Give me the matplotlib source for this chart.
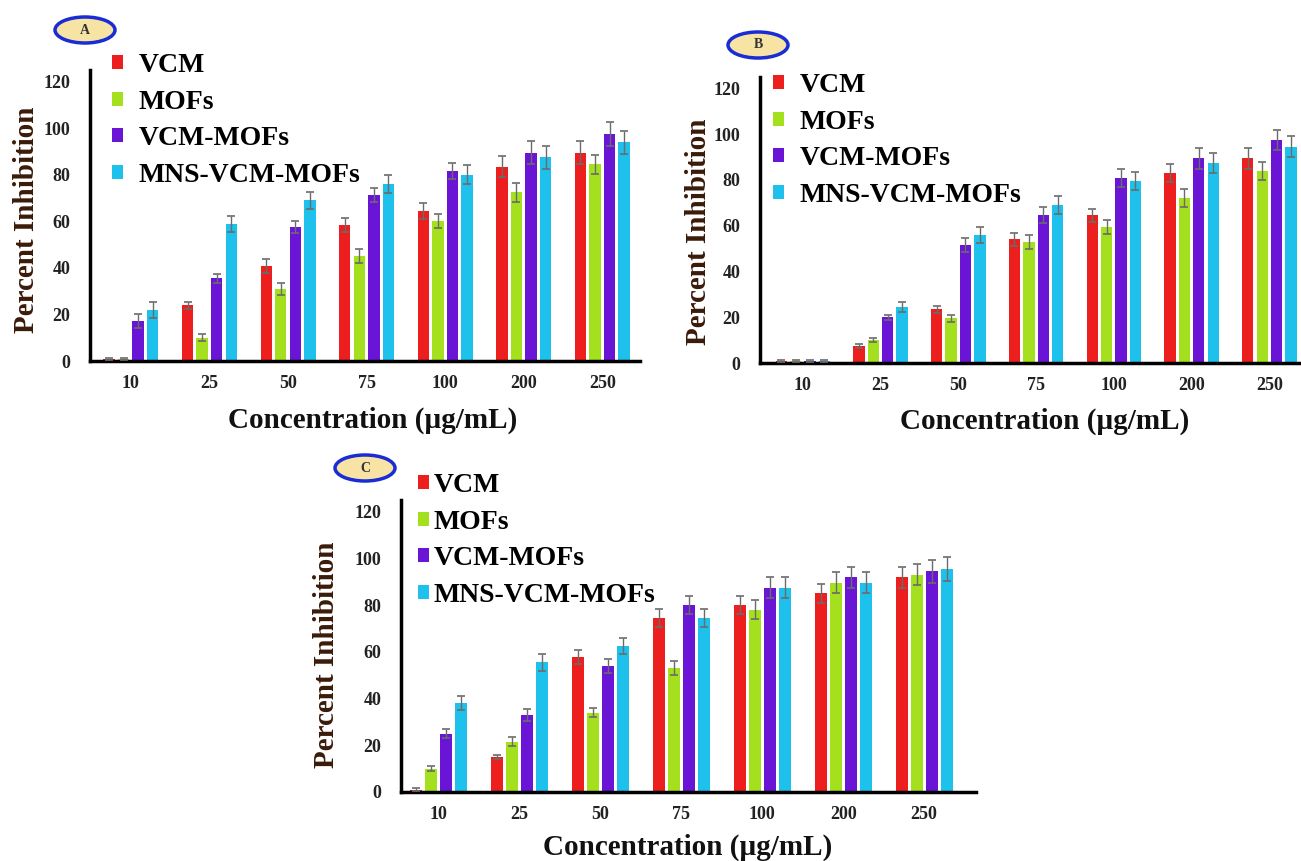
import matplotlib
matplotlib.use('Agg')
import matplotlib.pyplot as plt
from matplotlib.patches import Ellipse
import numpy as np

concs = ['10', '25', '50', '75', '100', '200', '250']
series = ['VCM', 'MOFs', 'VCM-MOFs', 'MNS-VCM-MOFs']
colors = ['#ec1e1e', '#a4e01e', '#6a14d6', '#1ec0ec']
yticks = [0, 20, 40, 60, 80, 100, 120]

# panel A values (percent inhibition)
vcm_a = [1, 24, 41, 58.5, 64.5, 83.5, 89.5]
mofs_a = [1, 10, 31, 45, 60, 72.5, 84.5]
vcmmofs_a = [17, 35.5, 57.5, 71.5, 81.5, 89.5, 97.5]
mns_a = [22, 59, 69, 76, 80, 87.5, 94]
err_a = [[0.5, 1.5, 3, 3, 3.5, 4.5, 5],
         [0.5, 1.5, 2.5, 3, 3, 4, 4],
         [3, 2, 2.5, 3, 3.5, 5, 5],
         [3.5, 3.5, 3.5, 4, 4, 5, 5]]

# panel B
vcm_b = [1, 7.5, 23.5, 54, 64.5, 83, 89.5]
mofs_b = [1, 10, 19.5, 53, 59.5, 72, 84]
vcmmofs_b = [1, 20, 51.5, 64.5, 81, 89.5, 97.5]
mns_b = [1, 24.5, 56, 69, 79.5, 87.5, 94.5]
err_b = [[0.5, 1, 1.5, 3, 3, 4, 4.5],
         [0.5, 1, 1.5, 3, 3, 4, 4],
         [0.5, 1, 3, 3.5, 4, 4.5, 4.5],
         [0.5, 2, 3.5, 4, 4, 4.5, 4.5]]

# panel C
vcm_c = [1, 15, 58, 74.5, 80, 85, 92]
mofs_c = [10, 21.5, 34, 53, 78, 89.5, 93]
vcmmofs_c = [25, 33, 54, 80, 87.5, 92, 94.5]
mns_c = [38, 55.5, 62.5, 74.5, 87.5, 89.5, 95.5]
err_c = [[0.5, 1, 3, 4, 4, 4, 4.5],
         [1, 2, 2, 3, 4, 4.5, 4.5],
         [2, 2.5, 3, 4, 4.5, 4.5, 5],
         [3, 3.5, 3.5, 4, 4.5, 4.5, 5]]

W, H = 1301, 861
fig = plt.figure(figsize=(W / 100, H / 100), dpi=100)
serif = ['Liberation Serif', 'DejaVu Serif']


def px(l, r, bottom, top):
    return [l / W, 1 - bottom / H, (r - l) / W, (bottom - top) / H]


panels = [
    # tag, data, errors, axes box, xlim, ylabel pos, xlabel pos, legend pos, tag pos
    ('A', [vcm_a, mofs_a, vcmmofs_a, mns_a], err_a, px(90, 640, 361, 70),
     (-0.52, 6.48), (27, 220), (373, 420), (112, 53, 0.55), (85, 30)),
    ('B', [vcm_b, mofs_b, vcmmofs_b, mns_b], err_b, px(760, 1330, 363, 77),
     (-0.55, 6.78), (699, 232), (1045, 421), (773, 73, 0.55), (758, 45)),
    ('C', [vcm_c, mofs_c, vcmmofs_c, mns_c], err_c, px(401, 976, 792, 500),
     (-0.46, 6.64), (326, 655), (688, 847), (418, 473, 0.15), (365, 468)),
]

x = np.arange(len(concs))
step = 0.185
width = 0.145

for tag, vals, errs, box, xlim, ylab, xlab, leg, tagpos in panels:
    ax = fig.add_axes(box)
    bars = []
    for i, (v, e) in enumerate(zip(vals, errs)):
        xi = x + (i - 1.5) * step
        b = ax.bar(xi, v, width, color=colors[i], label=series[i], zorder=2)
        ax.errorbar(xi, v, yerr=e, fmt='none', ecolor='#6b6b6b',
                    elinewidth=1, capsize=3, capthick=1.2, zorder=3)
        bars.append(b)
    ax.set_xlim(*xlim)
    ax.set_ylim(0, 125)
    ax.set_yticks(yticks)
    ax.set_xticks(x)
    ax.set_xticklabels(concs)
    for s in ['top', 'right']:
        ax.spines[s].set_visible(False)
    for s in ['left', 'bottom']:
        ax.spines[s].set_linewidth(2.5)
        ax.spines[s].set_color('black')
    ax.tick_params(length=0)
    ax.tick_params(axis='x', pad=10)
    ax.tick_params(axis='y', pad=14)
    for lab in ax.get_xticklabels() + ax.get_yticklabels():
        lab.set_family(serif)
        lab.set_fontweight('bold')
        lab.set_fontsize(13)
        lab.set_color('#222222')

    fig.text(ylab[0] / W, 1 - ylab[1] / H, 'Percent Inhibition', rotation=90,
             ha='center', va='center', family=serif, fontweight='bold',
             fontsize=21, color='#3a1a08')
    fig.text(xlab[0] / W, 1 - xlab[1] / H, 'Concentration (µg/mL)',
             ha='center', va='center', family=serif, fontweight='bold',
             fontsize=21, color='#111111')

    lg = ax.legend(handles=bars, labels=series, loc='upper left',
                   bbox_to_anchor=(leg[0] / W, 1 - leg[1] / H),
                   bbox_transform=fig.transFigure, frameon=False,
                   prop={'family': serif, 'weight': 'bold', 'size': 20},
                   handlelength=0.4, handleheight=0.4, handletextpad=leg[2],
                   labelspacing=0.42, borderpad=0, borderaxespad=0)

    ell = Ellipse((tagpos[0] / W, 1 - tagpos[1] / H), 60 / W, 26 / H,
                  transform=fig.transFigure, facecolor='#f7e3a4',
                  edgecolor='#1a2cd4', linewidth=2.5)
    fig.patches.append(ell)
    fig.text(tagpos[0] / W, 1 - tagpos[1] / H, tag, ha='center', va='center',
             family=serif, fontweight='bold', fontsize=10, color='#333333')

fig.savefig('out.png', dpi=100)
